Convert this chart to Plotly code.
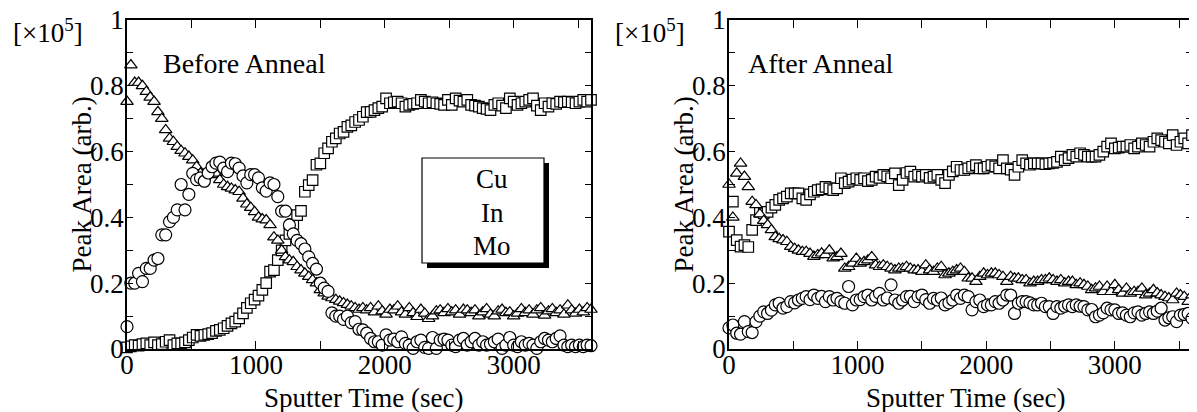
import plotly.graph_objects as go

# ---------------- data (Peak Area, x10^5) ----------------
time_s = list(range(0, 3601, 30))

before_cu = [
    0.068, 0.20, 0.20, 0.23, 0.205, 0.245, 0.245, 0.27, 0.275, 0.347,
    0.347, 0.387, 0.40, 0.423, 0.50, 0.423, 0.47, 0.534, 0.515, 0.52,
    0.51, 0.535, 0.554, 0.565, 0.568, 0.55, 0.539, 0.565, 0.563, 0.55,
    0.526, 0.505, 0.53, 0.53, 0.52, 0.49, 0.48, 0.505, 0.50, 0.463,
    0.419, 0.419, 0.377, 0.35, 0.33, 0.32, 0.304, 0.28, 0.26, 0.243,
    0.20, 0.185, 0.175, 0.11, 0.10, 0.10, 0.09, 0.10, 0.08, 0.083,
    0.06, 0.058, 0.048, 0.032, 0.022, 0.022, 0.012, 0.043, 0.027, 0.03,
    0.022, 0.037, 0.017, 0.012, 0.002, 0.022, 0.027, 0.005, 0.002, 0.035,
    0.002, 0.027, 0.03, 0.027, 0.012, 0.007, 0.027, 0.032, 0.012, 0.022,
    0.032, 0.012, 0.022, 0.012, 0.015, 0.022, 0.030, 0.002, 0.012, 0.035,
    0.012, 0.007, 0.022, 0.012, 0.017, 0.012, 0.002, 0.022, 0.032, 0.027,
    0.022, 0.032, 0.04, 0.012, 0.007, 0.012, 0.007, 0.012, 0.007, 0.012,
    0.010,
]

before_in = [
    0.752, 0.863, 0.81, 0.81, 0.80, 0.782, 0.765, 0.752, 0.721, 0.70,
    0.666, 0.64, 0.63, 0.615, 0.603, 0.595, 0.585, 0.574, 0.554, 0.534,
    0.524, 0.53, 0.529, 0.534, 0.514, 0.50, 0.493, 0.488, 0.483, 0.478,
    0.458, 0.44, 0.43, 0.417, 0.40, 0.395, 0.392, 0.377, 0.34, 0.33,
    0.30, 0.28, 0.27, 0.265, 0.25, 0.24, 0.23, 0.22, 0.21, 0.20,
    0.18, 0.17, 0.16, 0.155, 0.15, 0.145, 0.14, 0.135, 0.13, 0.125,
    0.12, 0.125, 0.118, 0.125, 0.112, 0.13, 0.115, 0.105, 0.12, 0.118,
    0.13, 0.112, 0.105, 0.125, 0.11, 0.098, 0.12, 0.108, 0.092, 0.10,
    0.115, 0.118, 0.11, 0.122, 0.112, 0.118, 0.105, 0.12, 0.118, 0.11,
    0.118, 0.10, 0.112, 0.122, 0.105, 0.10, 0.115, 0.12, 0.11, 0.112,
    0.10, 0.108, 0.122, 0.11, 0.118, 0.105, 0.118, 0.125, 0.102, 0.115,
    0.122, 0.11, 0.118, 0.105, 0.133, 0.118, 0.108, 0.12, 0.112, 0.125,
    0.12,
]

before_mo = [
    0.005, 0.008, 0.012, 0.010, 0.015, 0.017, 0.012, 0.020, 0.012, 0.015,
    0.022, 0.027, 0.012, 0.017, 0.017, 0.020, 0.027, 0.035, 0.043, 0.040,
    0.043, 0.045, 0.048, 0.055, 0.058, 0.063, 0.070, 0.078, 0.083, 0.093,
    0.108, 0.125, 0.139, 0.15, 0.162, 0.18, 0.20, 0.235, 0.24, 0.27,
    0.30, 0.33, 0.35, 0.38, 0.407, 0.42, 0.478, 0.498, 0.513, 0.56,
    0.564, 0.595, 0.61, 0.63, 0.64, 0.655, 0.66, 0.675, 0.68, 0.69,
    0.696, 0.706, 0.72, 0.721, 0.726, 0.732, 0.737, 0.762, 0.747, 0.75,
    0.752, 0.747, 0.737, 0.742, 0.745, 0.747, 0.757, 0.752, 0.747, 0.75,
    0.747, 0.745, 0.742, 0.757, 0.742, 0.762, 0.755, 0.752, 0.757, 0.742,
    0.74, 0.737, 0.732, 0.73, 0.726, 0.742, 0.747, 0.74, 0.732, 0.762,
    0.752, 0.742, 0.747, 0.752, 0.757, 0.762, 0.74, 0.726, 0.747, 0.737,
    0.747, 0.745, 0.752, 0.75, 0.752, 0.75, 0.747, 0.752, 0.757, 0.752,
    0.757,
]

after_cu = [
    0.064, 0.073, 0.048, 0.045, 0.083, 0.053, 0.05, 0.083, 0.10, 0.113,
    0.108, 0.118, 0.134, 0.139, 0.124, 0.129, 0.144, 0.14, 0.149, 0.154,
    0.159, 0.15, 0.164, 0.154, 0.16, 0.144, 0.159, 0.149, 0.154, 0.144,
    0.139, 0.19, 0.134, 0.149, 0.15, 0.159, 0.164, 0.149, 0.16, 0.169,
    0.149, 0.155, 0.195, 0.149, 0.139, 0.149, 0.159, 0.16, 0.144, 0.159,
    0.164, 0.15, 0.139, 0.154, 0.149, 0.155, 0.134, 0.14, 0.149, 0.164,
    0.154, 0.164, 0.159, 0.119, 0.144, 0.149, 0.129, 0.134, 0.134, 0.144,
    0.139, 0.149, 0.164, 0.164, 0.108, 0.139, 0.144, 0.144, 0.14, 0.134,
    0.134, 0.139, 0.129, 0.129, 0.108, 0.129, 0.124, 0.13, 0.134, 0.129,
    0.134, 0.13, 0.129, 0.119, 0.12, 0.098, 0.103, 0.11, 0.124, 0.119,
    0.119, 0.108, 0.11, 0.103, 0.098, 0.11, 0.113, 0.103, 0.108, 0.113,
    0.108, 0.115, 0.124, 0.088, 0.095, 0.098, 0.083, 0.103, 0.105, 0.108,
    0.093,
]

after_in = [
    0.50, 0.40, 0.534, 0.564, 0.524, 0.493, 0.448, 0.438, 0.41, 0.39,
    0.377, 0.362, 0.341, 0.335, 0.331, 0.326, 0.311, 0.305, 0.30, 0.296,
    0.296, 0.29, 0.281, 0.286, 0.291, 0.286, 0.30, 0.276, 0.28, 0.29,
    0.245, 0.25, 0.26, 0.275, 0.26, 0.265, 0.27, 0.28, 0.255, 0.25,
    0.255, 0.25, 0.245, 0.24, 0.245, 0.245, 0.25, 0.245, 0.24, 0.24,
    0.235, 0.255, 0.24, 0.235, 0.245, 0.25, 0.225, 0.23, 0.235, 0.24,
    0.245, 0.235, 0.215, 0.215, 0.205, 0.22, 0.23, 0.225, 0.23, 0.23,
    0.225, 0.22, 0.205, 0.22, 0.215, 0.215, 0.21, 0.21, 0.20, 0.205,
    0.205, 0.21, 0.21, 0.215, 0.21, 0.205, 0.21, 0.20, 0.205, 0.205,
    0.195, 0.20, 0.195, 0.19, 0.18, 0.185, 0.19, 0.174, 0.19, 0.174,
    0.195, 0.18, 0.169, 0.184, 0.169, 0.174, 0.174, 0.184, 0.164, 0.169,
    0.18, 0.17, 0.164, 0.159, 0.155, 0.149, 0.169, 0.164, 0.159, 0.144,
    0.164,
]

after_mo = [
    0.357, 0.448, 0.331, 0.311, 0.316, 0.31, 0.362, 0.392, 0.417, 0.412,
    0.417, 0.43, 0.438, 0.453, 0.458, 0.463, 0.473, 0.473, 0.473, 0.458,
    0.453, 0.47, 0.478, 0.483, 0.485, 0.493, 0.488, 0.483, 0.488, 0.519,
    0.504, 0.509, 0.515, 0.519, 0.514, 0.519, 0.51, 0.514, 0.524, 0.52,
    0.529, 0.525, 0.519, 0.534, 0.498, 0.514, 0.535, 0.539, 0.524, 0.529,
    0.524, 0.529, 0.52, 0.524, 0.529, 0.514, 0.504, 0.529, 0.54, 0.554,
    0.544, 0.544, 0.549, 0.554, 0.559, 0.549, 0.549, 0.554, 0.559, 0.555,
    0.549, 0.574, 0.549, 0.545, 0.529, 0.554, 0.574, 0.564, 0.56, 0.564,
    0.564, 0.564, 0.562, 0.564, 0.566, 0.569, 0.585, 0.574, 0.58, 0.59,
    0.585, 0.595, 0.59, 0.585, 0.585, 0.585, 0.59, 0.60, 0.615, 0.625,
    0.61, 0.612, 0.615, 0.615, 0.62, 0.61, 0.615, 0.625, 0.62, 0.615,
    0.63, 0.64, 0.635, 0.63, 0.625, 0.65, 0.62, 0.63, 0.64, 0.625,
    0.65,
]

x_tick_vals = [0, 1000, 2000, 3000]
x_tick_text = ["0", "1000", "2000", "3000"]
y_tick_vals = [0, 0.2, 0.4, 0.6, 0.8, 1]
y_tick_text = ["0", "0.2", "0.4", "0.6", "0.8", "1"]
legend_names = ["Cu", "In", "Mo"]
panel_titles = ["Before Anneal", "After Anneal"]

# ---------------- figure ----------------
PAGE_W, PAGE_H = 1197, 412
OFF = 8  # default page body margin
W, H = PAGE_W - OFF, PAGE_H - OFF
FONT = "Liberation Serif"


def fx(p):
    """page pixel x -> paper fraction"""
    return (p - OFF) / W


def fy(p):
    """page pixel y -> paper fraction"""
    return 1 - (p - OFF) / H


fig = go.Figure()

marker_styles = {
    "Cu": dict(symbol="circle", size=12),
    "In": dict(symbol="triangle-up", size=11),
    "Mo": dict(symbol="square", size=10.5),
}

panels = [
    ("x", "y", {"Cu": before_cu, "In": before_in, "Mo": before_mo}),
    ("x2", "y2", {"Cu": after_cu, "In": after_in, "Mo": after_mo}),
]

for xa, ya, series in panels:
    for name in ["Mo", "In", "Cu"]:
        st = marker_styles[name]
        fig.add_trace(go.Scatter(
            x=time_s, y=series[name], mode="markers", name=name,
            xaxis=xa, yaxis=ya, showlegend=False, cliponaxis=False,
            marker=dict(symbol=st["symbol"], size=st["size"], color="white",
                        line=dict(color="black", width=1.2)),
        ))

plot_boxes = [(127, 591), (729, 1192)]
top_px, bot_px = 20, 349


def xaxis_cfg(dom, anchor):
    return dict(
        domain=[fx(dom[0]), fx(dom[1])], range=[0, 3600], anchor=anchor,
        automargin=False, ticklabeloverflow="allow",
        tickmode="array", tickvals=x_tick_vals, ticktext=x_tick_text,
        ticks="inside", ticklen=8, tickwidth=1.2, tickcolor="black",
        ticklabelstandoff=-9,
        minor=dict(dtick=500, tick0=0, ticks="inside", ticklen=8, tickwidth=1.2, tickcolor="black"),
        showline=True, linecolor="black", linewidth=1.5, mirror="allticks",
        showgrid=False, zeroline=False,
        tickfont=dict(family=FONT, size=27, color="black"),
    )


def yaxis_cfg(anchor):
    return dict(
        domain=[fy(bot_px), fy(top_px)], range=[0, 1], anchor=anchor,
        automargin=False, ticklabeloverflow="allow",
        tickmode="array", tickvals=y_tick_vals, ticktext=y_tick_text,
        ticks="inside", ticklen=6, tickwidth=1.2, tickcolor="black",
        ticklabelstandoff=-4,
        minor=dict(dtick=0.1, tick0=0, ticks="inside", ticklen=6, tickwidth=1.2, tickcolor="black"),
        showline=True, linecolor="black", linewidth=1.5, mirror="allticks",
        showgrid=False, zeroline=False,
        tickfont=dict(family=FONT, size=27, color="black"),
    )


fig.update_layout(
    template="none",
    width=W, height=H, margin=dict(l=0, r=0, t=0, b=0, pad=0),
    paper_bgcolor="white", plot_bgcolor="white",
    font=dict(family=FONT, size=26, color="black"),
    xaxis=xaxis_cfg(plot_boxes[0], "y"),
    yaxis=yaxis_cfg("x"),
    xaxis2=xaxis_cfg(plot_boxes[1], "y2"),
    yaxis2=yaxis_cfg("x2"),
)

annotations = []
ymid = (top_px + bot_px) / 2
for i, (l, r) in enumerate(plot_boxes):
    # y-axis title
    annotations.append(dict(
        text="Peak Area (arb.)", xref="paper", yref="paper",
        x=fx(l - 46), y=fy(ymid), textangle=-90, showarrow=False,
        xanchor="center", yanchor="middle", font=dict(family=FONT, size=27, color="black")))
    # x-axis title
    annotations.append(dict(
        text="Sputter Time (sec)", xref="paper", yref="paper",
        x=fx((l + r) / 2 + 5), y=fy(398), showarrow=False,
        xanchor="center", yanchor="middle", font=dict(family=FONT, size=27, color="black")))
    # multiplier
    annotations.append(dict(
        text="[×10<sup>5</sup>]", xref="paper", yref="paper",
        x=fx(l - 116), y=fy(31), showarrow=False,
        xanchor="left", yanchor="middle", font=dict(family=FONT, size=27, color="black")))
    # panel title
    annotations.append(dict(
        text=panel_titles[i], xref="paper", yref="paper",
        x=fx(l + (34 if i == 0 else 17)), y=fy(63), showarrow=False,
        xanchor="left", yanchor="middle", font=dict(family=FONT, size=28, color="black")))

# legend box text
for name, ypx in zip(legend_names, [179, 213, 246]):
    annotations.append(dict(
        text=name, xref="paper", yref="paper", x=fx(492), y=fy(ypx),
        showarrow=False, xanchor="center", yanchor="middle",
        font=dict(family=FONT, size=27, color="black")))

fig.update_layout(annotations=annotations)

fig.update_layout(shapes=[
    dict(type="rect", xref="paper", yref="paper",
         x0=fx(427), x1=fx(549), y0=fy(268), y1=fy(163),
         fillcolor="black", line=dict(width=0), layer="above"),
    dict(type="rect", xref="paper", yref="paper",
         x0=fx(422), x1=fx(544), y0=fy(263), y1=fy(158),
         fillcolor="white", line=dict(color="black", width=1.2), layer="above"),
])

fig.write_html("out.html")
